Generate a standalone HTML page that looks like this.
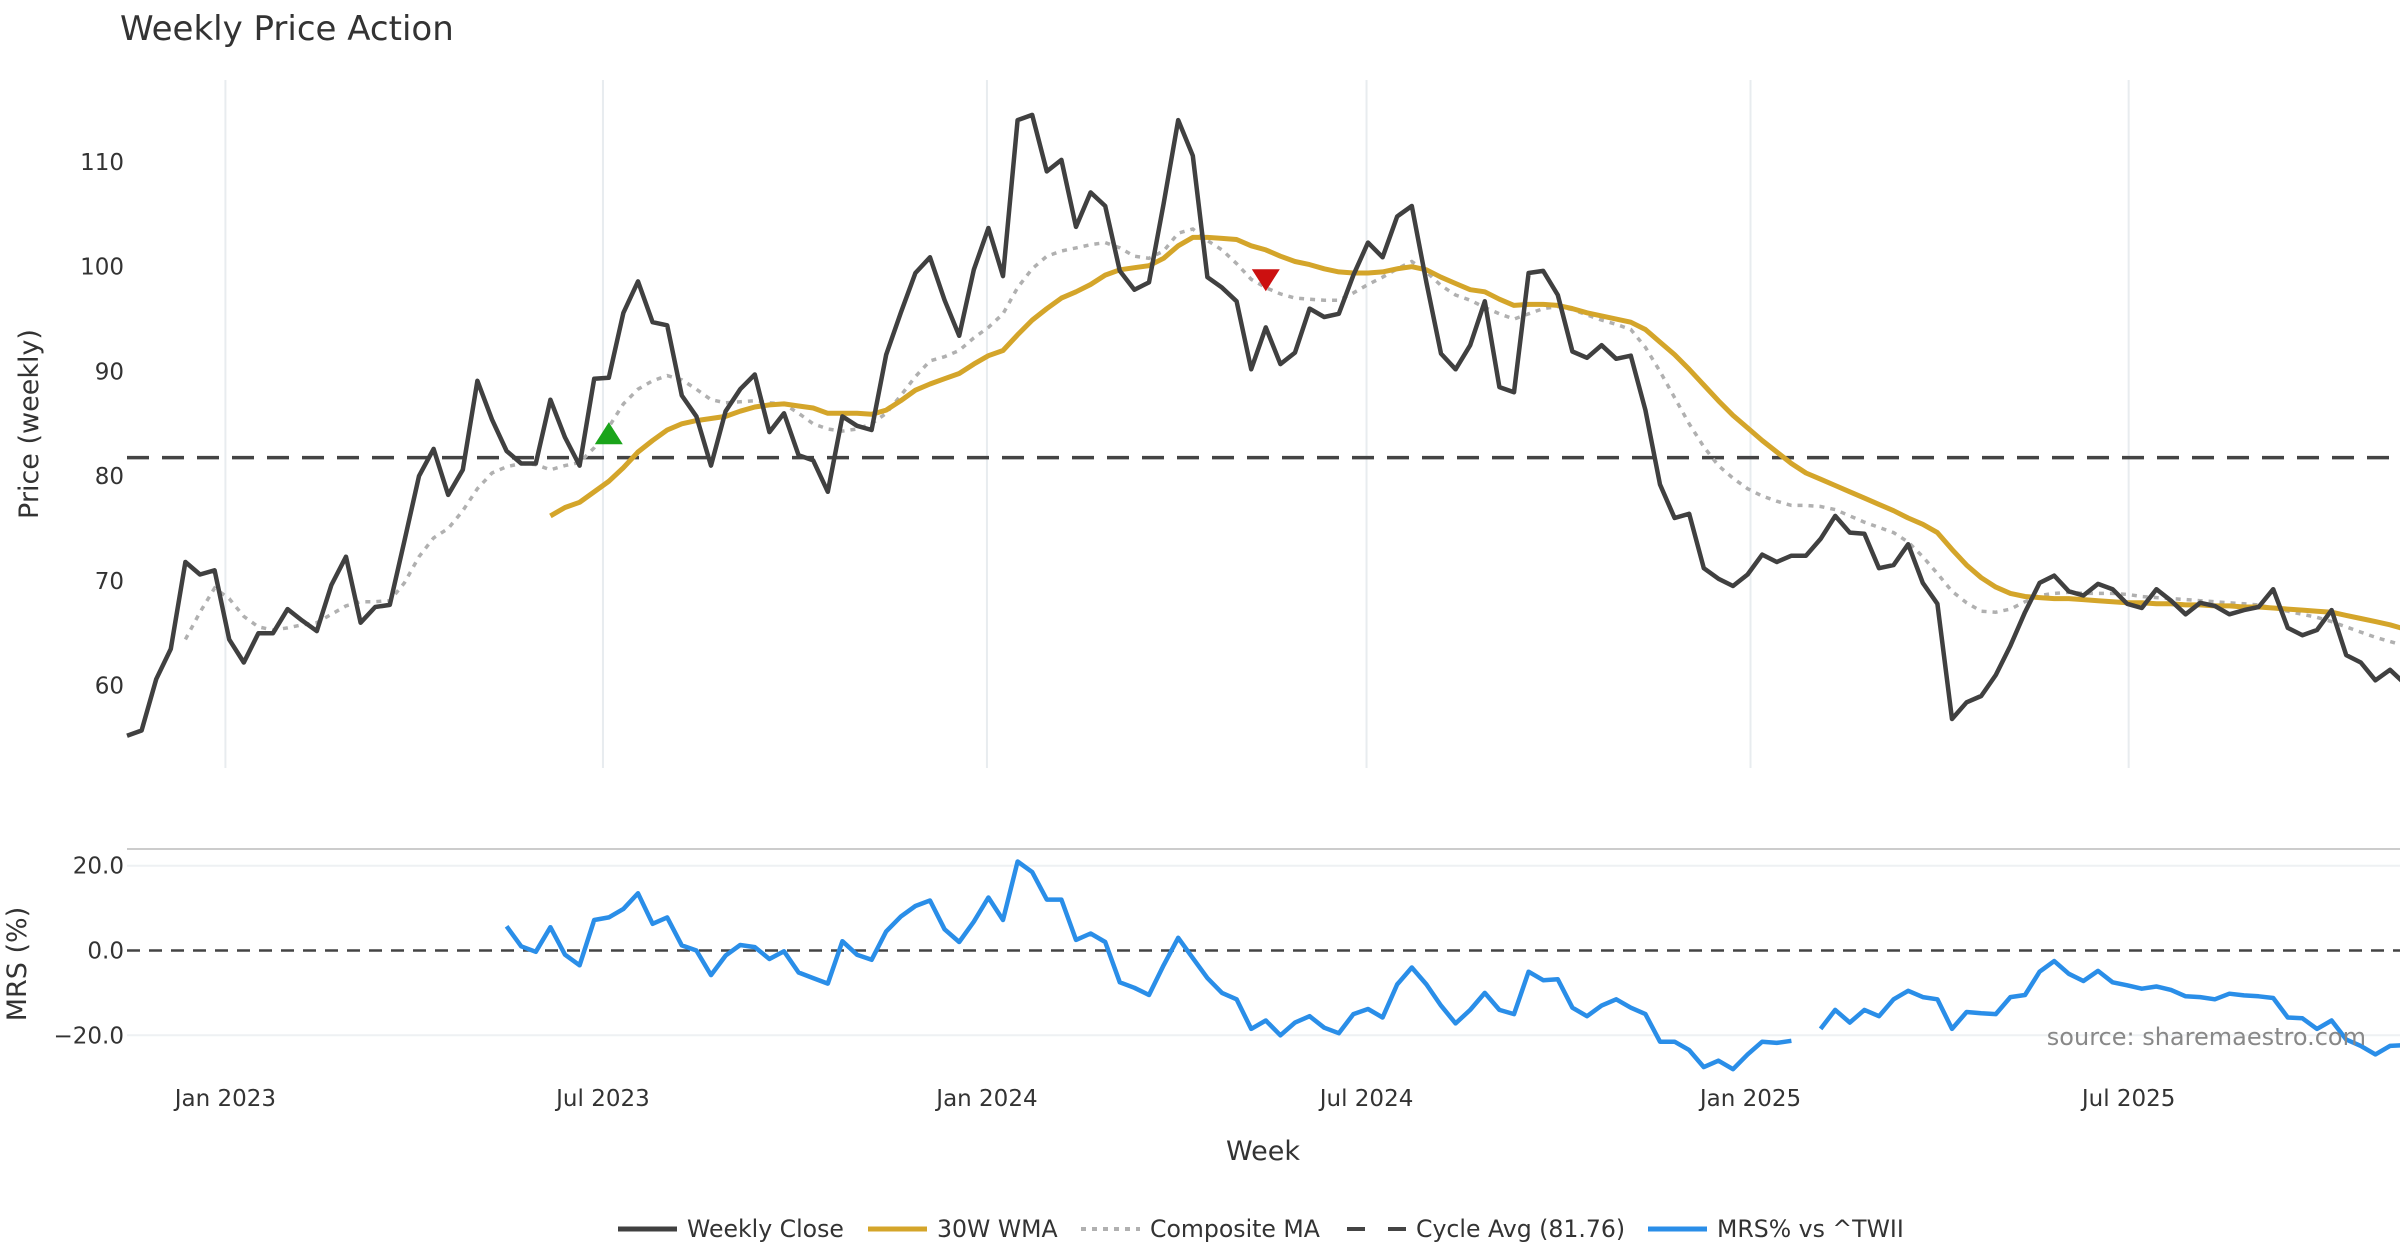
<!DOCTYPE html>
<html><head><meta charset="utf-8">
<style>
html,body{margin:0;padding:0;background:#fff;}
svg{display:block;font-family:"DejaVu Sans","Liberation Sans",sans-serif;}
</style></head>
<body>
<svg id="chart" width="2400" height="1260" viewBox="0 0 2400 1260" xmlns="http://www.w3.org/2000/svg">
<rect width="2400" height="1260" fill="#fff"/>
<text x="120" y="40" font-size="34" fill="#333">Weekly Price Action</text>
<g id="grid"></g>
<g id="series"></g>
<g id="axes"></g>
<text transform="translate(38,424) rotate(-90)" text-anchor="middle" font-size="27" fill="#333">Price (weekly)</text>
<text transform="translate(26,964) rotate(-90)" text-anchor="middle" font-size="27" fill="#333">MRS (%)</text>
<text x="1263" y="1160" text-anchor="middle" font-size="27" fill="#333">Week</text>
<text x="2366" y="1045" text-anchor="end" font-size="24" fill="#888">source: sharemaestro.com</text>
<g id="legend"></g>
</svg>
<script>
const closeVals=[55.2,55.7,60.6,63.5,71.8,70.6,71.0,64.4,62.2,65.0,65.0,67.3,66.2,65.2,69.6,72.3,66.0,67.5,67.7,73.8,80.0,82.6,78.2,80.6,89.1,85.4,82.4,81.2,81.2,87.3,83.7,81.0,89.3,89.4,95.6,98.6,94.7,94.4,87.7,85.7,81.0,86.2,88.3,89.7,84.2,86.0,82.0,81.5,78.5,85.7,84.8,84.4,91.6,95.6,99.4,100.9,96.8,93.4,99.7,103.7,99.1,114.0,114.5,109.1,110.2,103.8,107.1,105.8,99.6,97.8,98.5,106,114,110.6,99.0,98.0,96.7,90.2,94.2,90.7,91.8,96.0,95.2,95.5,99.2,102.3,100.9,104.8,105.8,98.5,91.7,90.2,92.5,96.7,88.5,88.0,99.4,99.6,97.3,91.9,91.3,92.5,91.2,91.5,86.3,79.2,76.0,76.4,71.2,70.2,69.5,70.6,72.5,71.8,72.4,72.4,74.0,76.2,74.6,74.5,71.2,71.5,73.5,69.8,67.8,56.8,58.4,59.0,61.0,63.8,67.0,69.8,70.5,69.0,68.6,69.7,69.2,67.8,67.4,69.2,68.1,66.8,67.9,67.6,66.8,67.2,67.5,69.2,65.5,64.8,65.3,67.2,62.9,62.2,60.5,61.5,60.2];
const wmaStart=29;
const wmaVals=[76.2,77.0,77.5,78.5,79.5,80.8,82.3,83.4,84.4,85.0,85.3,85.5,85.7,86.2,86.6,86.8,86.9,86.7,86.5,86.0,86.0,86.0,85.9,86.3,87.2,88.2,88.8,89.3,89.8,90.7,91.5,92.0,93.5,94.9,96.0,97.0,97.6,98.3,99.2,99.7,99.9,100.1,100.8,102.0,102.8,102.8,102.7,102.6,102.0,101.6,101.0,100.5,100.2,99.8,99.5,99.4,99.4,99.5,99.8,100.0,99.7,99.0,98.4,97.8,97.6,96.9,96.3,96.4,96.4,96.3,96.0,95.6,95.3,95.0,94.7,94.0,92.8,91.6,90.2,88.7,87.2,85.8,84.6,83.4,82.3,81.2,80.3,79.7,79.1,78.5,77.9,77.3,76.7,76.0,75.4,74.6,73.0,71.5,70.3,69.4,68.8,68.5,68.4,68.3,68.3,68.2,68.1,68.0,67.9,67.9,67.8,67.8,67.7,67.7,67.6,67.6,67.5,67.5,67.4,67.3,67.2,67.1,67.0,66.7,66.4,66.1,65.8,65.4];
const compStart=4;
const compVals=[64.4,67.0,69.3,68.3,66.6,65.6,65.3,65.5,65.8,66.0,66.8,67.6,68.0,68.0,68.1,69.8,72.3,74.1,75.0,76.7,78.8,80.3,80.9,81.2,81.1,80.6,81.0,81.3,82.7,84.7,86.9,88.3,89.1,89.6,89.2,88.3,87.3,87.0,87.1,87.2,87.0,86.9,86.0,85.0,84.5,84.3,84.5,85.0,86.0,87.7,89.5,91.0,91.4,92.0,93.2,94.2,95.5,98.0,99.8,101.0,101.5,101.8,102.1,102.3,101.8,101.0,100.8,101.5,103.2,103.6,102.5,101.6,100.3,98.8,98.0,97.4,97.0,96.9,96.8,96.8,97.5,98.3,99.0,99.8,100.5,99.5,98.2,97.3,96.8,96.1,95.5,95.0,95.5,96.0,96.2,95.9,95.4,94.9,94.5,94.0,92.3,90.0,87.5,85.0,82.8,81.0,79.8,78.8,78.1,77.6,77.2,77.2,77.1,76.8,76.2,75.6,75.1,74.6,73.7,72.3,70.7,69.0,67.9,67.1,67.0,67.3,68.0,68.6,68.8,68.9,68.8,68.8,68.8,68.7,68.5,68.4,68.3,68.2,68.1,68.0,67.9,67.8,67.7,67.4,67.1,66.8,66.5,66.1,65.6,65.1,64.6,64.2,63.8];
const mrsStart=26;
const mrsVals=[5.7,1.0,-0.3,5.5,-1.0,-3.5,7.2,7.8,9.8,13.5,6.3,7.8,1.2,0,-5.8,-1.2,1.3,0.8,-2.0,-0.2,-5.2,-6.5,-7.8,2.2,-1.0,-2.2,4.5,8.0,10.5,11.8,5.0,2.0,6.8,12.5,7.2,21.0,18.5,12.0,12.0,2.5,4.0,2.0,-7.5,-8.8,-10.5,-3.5,3.0,-1.8,-6.5,-10.0,-11.5,-18.5,-16.5,-20.0,-17.0,-15.5,-18.2,-19.5,-15.0,-13.8,-15.8,-8.0,-4.0,-8.0,-13.0,-17.2,-14.0,-10.0,-14.0,-15.0,-5.0,-7.0,-6.8,-13.5,-15.5,-13.0,-11.5,-13.5,-15.0,-21.5,-21.5,-23.5,-27.5,-26.0,-28.0,-24.5,-21.5,-21.8,-21.3,null,-18.5,-14.0,-17.0,-14.0,-15.5,-11.5,-9.5,-11.0,-11.5,-18.5,-14.5,-14.8,-15.0,-11.0,-10.5,-5.0,-2.5,-5.5,-7.2,-4.8,-7.5,-8.2,-9.0,-8.5,-9.3,-10.8,-11.0,-11.5,-10.2,-10.6,-10.8,-11.2,-15.8,-16.0,-18.5,-16.5,-21.0,-22.5,-24.5,-22.5,-22.3];
const cycleAvg=81.76;
const priceTicks=[60,70,80,90,100,110];
const mrsTicks=[20,0,-20];
const mrsTickLabels=["20.0","0.0","\u221220.0"];
const dateTickWeeks=[6.74,32.6,58.9,84.9,111.2,137.1];
const dateTickLabels=["Jan 2023","Jul 2023","Jan 2024","Jul 2024","Jan 2025","Jul 2025"];
const buySignal={week:33,value:84.0};
const sellSignal={week:78,value:98.8};

const NS="http://www.w3.org/2000/svg";
const X0=127, STEP=14.6;
const xs=i=>X0+i*STEP;
const yp=v=>162+(110-v)*10.47;
const ym=v=>950.5-v*4.24;
function mk(tag,attrs,parent){const e=document.createElementNS(NS,tag);for(const k in attrs)e.setAttribute(k,attrs[k]);parent.appendChild(e);return e;}
const grid=document.getElementById('grid'),ser=document.getElementById('series'),axes=document.getElementById('axes'),leg=document.getElementById('legend');

dateTickWeeks.forEach((w,k)=>{
  const l=mk('line',{x1:xs(w),x2:xs(w),y1:80,y2:768,stroke:'#e8ecef','stroke-width':2},grid);
  
  
  const t=mk('text',{x:xs(w),y:1106,'text-anchor':'middle','font-size':23,fill:'#333'},axes);
  t.textContent=dateTickLabels[k];
  
  
});
priceTicks.forEach(v=>{
  const t=mk('text',{x:124,y:yp(v)+8,'text-anchor':'end','font-size':23,fill:'#333'},axes);
  t.textContent=v;
  
  
});
const sep=mk('line',{x1:127,x2:2400,y1:849,y2:849,stroke:'#cccccc','stroke-width':2},grid);


mrsTicks.forEach((v,k)=>{
  if(v!==0){const g=mk('line',{x1:127,x2:2400,y1:ym(v),y2:ym(v),stroke:'#eef1f3','stroke-width':2},grid);
  
  }
  const t=mk('text',{x:124,y:ym(v)+8,'text-anchor':'end','font-size':23,fill:'#333'},axes);
  t.textContent=mrsTickLabels[k];
  
  
});

function pathFrom(vals,start,yf){let d='',pen=false;vals.forEach((v,j)=>{if(v===null){pen=false;return;}d+=(pen?'L':'M')+xs(start+j).toFixed(1)+','+yf(v).toFixed(1);pen=true;});return d;}

const cyc=mk('line',{x1:127,x2:2400,y1:yp(cycleAvg),y2:yp(cycleAvg),stroke:'#444','stroke-width':3.5,'stroke-dasharray':'22,13'},ser);


const zero=mk('line',{x1:127,x2:2400,y1:ym(0),y2:ym(0),stroke:'#444','stroke-width':2.5,'stroke-dasharray':'13,9'},ser);



const comp=mk('path',{d:pathFrom(compVals,compStart,yp),fill:'none',stroke:'#b0b0b0','stroke-width':3.5,'stroke-dasharray':'5,6'},ser);


const wma=mk('path',{d:pathFrom(wmaVals,wmaStart,yp),fill:'none',stroke:'#d4a52a','stroke-width':5,'stroke-linejoin':'round'},ser);


const cl=mk('path',{d:pathFrom(closeVals,0,yp),fill:'none',stroke:'#404040','stroke-width':4.5,'stroke-linejoin':'round'},ser);


const mrs=mk('path',{d:pathFrom(mrsVals,mrsStart,ym),fill:'none',stroke:'#2a8ee8','stroke-width':4.5,'stroke-linejoin':'round'},ser);



const bx=xs(buySignal.week),by=yp(buySignal.value);
const buy=mk('polygon',{points:`${bx-14},${by+10} ${bx+14},${by+10} ${bx},${by-12}`,fill:'#1aa41a'},ser);


const sx=xs(sellSignal.week),sy=yp(sellSignal.value);
const sell=mk('polygon',{points:`${sx-14},${sy-10} ${sx+14},${sy-10} ${sx},${sy+12}`,fill:'#cc1010'},ser);



const legItems=[
 {x:618,label:'Weekly Close',stroke:'#404040',dash:'',w:5,name:'legend-weekly-close'},
 {x:868,label:'30W WMA',stroke:'#d4a52a',dash:'',w:5,name:'legend-30w-wma'},
 {x:1081,label:'Composite MA',stroke:'#b0b0b0',dash:'5,6',w:4,name:'legend-composite-ma'},
 {x:1347,label:'Cycle Avg (81.76)',stroke:'#444',dash:'18,23',w:4,name:'legend-cycle-avg'},
 {x:1648,label:'MRS% vs ^TWII',stroke:'#2a8ee8',dash:'',w:5,name:'legend-mrs'}];
legItems.forEach(it=>{
  const g=mk('g',{},leg);
  
  
  mk('line',{x1:it.x,x2:it.x+59,y1:1229,y2:1229,stroke:it.stroke,'stroke-width':it.w,'stroke-dasharray':it.dash},g);
  const t=mk('text',{x:it.x+69,y:1237,'font-size':23.6,fill:'#333'},g);
  t.textContent=it.label;
});
</script>
</body></html>
